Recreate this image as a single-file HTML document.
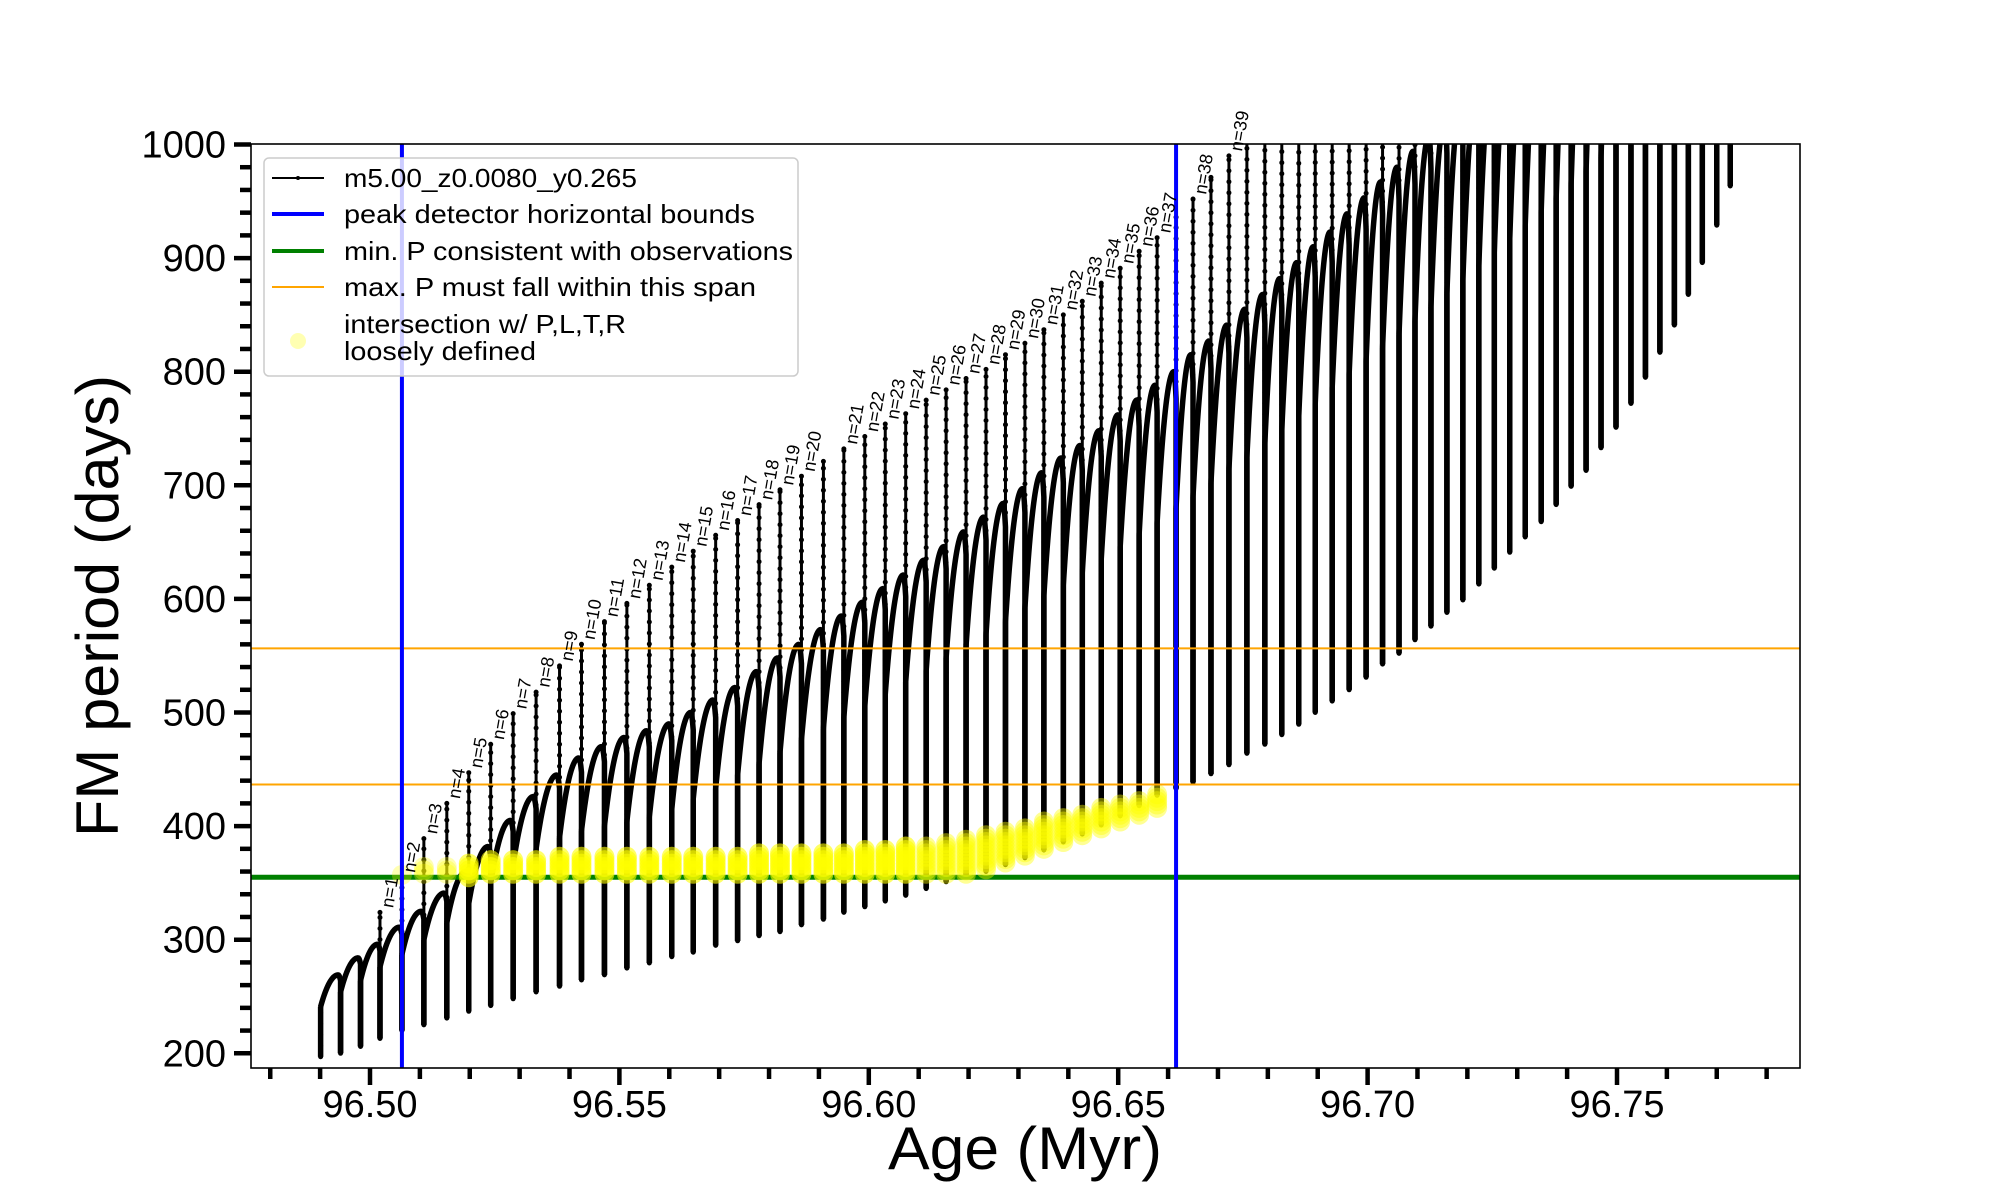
<!DOCTYPE html>
<html>
<head>
<meta charset="utf-8">
<style>
  html, body { margin: 0; padding: 0; background: #fff; }
  svg { display: block; font-family: "Liberation Sans", "DejaVu Sans", sans-serif; }
</style>
</head>
<body>
<svg id="chart" xmlns="http://www.w3.org/2000/svg" width="2000" height="1200" viewBox="0 0 2000 1200">
  <defs>
    <clipPath id="plotClip"><rect x="251" y="144" width="1549" height="924"/></clipPath>
  </defs>
  <rect x="0" y="0" width="2000" height="1200" fill="#fff"/>
  <g id="series" clip-path="url(#plotClip)"></g>
  <g id="axes"></g>
</svg>
<script>
// ---- data ----
const ages = [96.4901,96.4941,96.4981,96.5020,96.5064,96.5108,96.5154,96.5198,96.5242,96.5287,
  96.5333,96.5380,96.5424,96.5470,96.5515,96.5560,96.5605,96.5648,96.5693,96.5737,
  96.5780,96.5822,96.5865,96.5909,96.5950,96.5992,96.6033,96.6074,96.6115,96.6155,
  96.6195,96.6235,96.6274,96.6313,96.6351,96.6390,96.6428,96.6466,96.6504,96.6542,
  96.6578,96.6616,96.6650,96.6686,96.6722,96.6758,96.6794,96.6828,96.6862,96.6895,
  96.6929,96.6963,96.6997,96.7030,96.7063,96.7095,96.7127,96.7159,96.7191,96.7223,
  96.7254,96.7285,96.7316,96.7348,96.7378,96.7408,96.7438,96.7468,96.7498,96.7528,
  96.7557,96.7586,96.7615,96.7643,96.7671,96.7700,96.7727];
const minP = [197,200,206,213,220,225,231,237,242,248,
  254,259,264.5,269,275,279.5,285,289,295,299,
  303.5,307,313,318,324,329,334,339,345,351,
  355.5,360,366,372,379,386,393,401,409,418,
  427,433,438.6,446,454,464,472,480.5,489.6,500,
  510,520,531,542.6,552,564,576,588,599,613,
  627,641,654.5,668,683,699,713,733,751,772,
  795,817,841,868,896,929,963.5];
const spikeTop = [241,254,264,324,355,389,420,447,472,499,
  518,541,560,580,596,612,628,642,656,669,
  683,696,708,721,732,743,754,763,775,784,
  794,802,815,825,837,850,862,878,891,906,
  918,936,952,971,990,1050,1050,1050,1050,1050,
  1050,1050,1050,1050,1050,1050,1050,1050,1050,1050,
  1050,1050,1050,1050,1050,1050,1050,1050,1050,1050,
  1050,1050,1050,1050,1050,1050,1050];
const arcStart = [241,254,264,276,287,300,315,332,350,366,
  380,390,396,400,404,408,415,424,433,445,
  455,465,476,486,496,506,516,527,537,548,
  559,569,580,592,603,612,623,635,646,657,
  667,680,690,702,714,725,737,749,761,772,
  786,798,810,821,833,845,857,869,881,893,
  905,917,929,941,953,965,977,989,1001,1013,
  1025,1037,1049,1061,1073,1085,1100];
const arcPeak = [269,284,296,311,325,341,360,382,405,426,
  445,460,470,478,484,490,500,511,522,536,
  548,560,573,585,597,609,621,634,646,659,
  672,684,697,711,724,735,748,762,775,788,
  800,815,827,841,855,868,882,896,910,923,
  939,953,967,980,994,1008,1022,1036,1050,1064,
  1078,1092,1106,1120,1134,1148,1162,1176,1190,1204,
  1218,1232,1246,1260,1274,1288,1300];
const labelCycle = [3,4,5,6,7,8,9,10,11,12,13,14,15,16,17,18,19,20,21,22,
  24,25,26,27,28,29,30,31,32,33,34,35,36,37,38,39,40,42,44];
const labelText = ["n=1","n=2","n=3","n=4","n=5","n=6","n=7","n=8","n=9","n=10",
  "n=11","n=12","n=13","n=14","n=15","n=16","n=17","n=18","n=19","n=20",
  "n=21","n=22","n=23","n=24","n=25","n=26","n=27","n=28","n=29","n=30",
  "n=31","n=32","n=33","n=34","n=35","n=36","n=37","n=38","n=39"];
const yellowFirstCycle = 4;
const yellowLo = [357,358,358,355,358,358,358,358,358,358,358,358,358,358,358,358,358,358,358,358,358,358,358,358,358,358,358,
  362,368,374,380,386,392,398,404,410,416];
const yellowHi = [357,366,366,368,372,372,372,373,373,373,374,374,374,375,375,375,376,376,377,377,378,379,380,382,384,386,388,
  392,396,400,404,408,412,416,420,424,428];
const boundAges = [96.5064, 96.6616];
const minPeriod = [355];
const maxSpan = [436.6, 556.5];
const xTickLabels = ["96.50","96.55","96.60","96.65","96.70","96.75"];
const xTickValues = [96.50,96.55,96.60,96.65,96.70,96.75];
const yTickValues = [200,300,400,500,600,700,800,900,1000];
const yTickLabels = ["200","300","400","500","600","700","800","900","1000"];

// ---- axes functions ----
const X0 = 370, XS = 4988;
const Y0 = 1053.3, YS = 1.136;
function xs(a){ return X0 + (a - 96.5) * XS; }
function ys(p){ return Y0 - (p - 200) * YS; }
const PL = 251, PR = 1800, PT = 144, PB = 1068;

const NS = "http://www.w3.org/2000/svg";
function mk(tag, attrs, parent){
  const e = document.createElementNS(NS, tag);
  for (const k in attrs) e.setAttribute(k, attrs[k]);
  parent.appendChild(e);
  return e;
}
const series = document.getElementById('series');
const axes = document.getElementById('axes');

// ---- black model track ----
const gBlack = mk('g', {}, series);


for (let k = 0; k < ages.length; k++) {
  const x = xs(ages[k]);
  const yMin = ys(minP[k]), yTop = ys(spikeTop[k]), yStart = ys(arcStart[k]);
  const g = mk('g', {}, gBlack);
  
  
  const thin = mk('line', {x1:x, y1:yMin, x2:x, y2:yTop, stroke:'#000', 'stroke-width':3}, g);
  
  
  let d = '';
  for (let yy = yMin; yy >= yTop; yy -= 11) {
    d += 'M' + x + ' ' + yy.toFixed(1) + 'h0.01';
  }
  d += 'M' + x + ' ' + yTop.toFixed(1) + 'h0.01';
  const dots = mk('path', {d:d, stroke:'#000', 'stroke-width':5, 'stroke-linecap':'round'}, g);
  
  
  const thick = mk('line', {x1:x, y1:yMin, x2:x, y2:yStart, stroke:'#000', 'stroke-width':5.5}, g);
  
  
  if (k < ages.length - 1) {
    const t0 = ages[k], t1 = ages[k+1];
    let pd = '';
    for (let i = 0; i <= 30; i++) {
      const u = i / 30;
      let gg;
      if (u <= 0.88) { const v = 1 - u/0.88; gg = 1 - v*v; }
      else { const w = (u - 0.88)/0.12; gg = 1 - 0.18*w*w; }
      const p = arcStart[k] + (arcPeak[k] - arcStart[k]) * gg;
      pd += (i ? 'L' : 'M') + xs(t0 + u*(t1-t0)).toFixed(2) + ' ' + ys(p).toFixed(2);
    }
    pd += 'L' + xs(t1).toFixed(2) + ' ' + ys(minP[k+1]).toFixed(2);
    const arc = mk('path', {d:pd, fill:'none', stroke:'#000', 'stroke-width':5.5, 'stroke-linejoin':'round'}, g);
    
    
  }
}

// ---- n labels ----
for (let i = 0; i < labelCycle.length; i++) {
  const k = labelCycle[i];
  const x = xs(ages[k]) + 13, y = ys(spikeTop[k]) - 4;
  const t = mk('text', {x:x, y:y, 'font-size':18, fill:'#000', transform:'rotate(-80 '+x+' '+y+')'}, axes);
  t.textContent = labelText[i];
  
  
}

// ---- green line ----
const green = mk('line', {x1:PL, x2:PR, y1:ys(minPeriod[0]), y2:ys(minPeriod[0]), stroke:'#008000', 'stroke-width':5}, series);



// ---- yellow intersections ----
const gY = mk('g', {}, series);


for (let j = 0; j < yellowLo.length; j++) {
  const k = yellowFirstCycle + j;
  const x = xs(ages[k]);
  const op = j < 3 ? 0.3 : (j < 24 ? 0.6 : 0.42);
  for (let p = yellowLo[j]; p <= yellowHi[j] + 0.01; p += 3) {
    const c = mk('circle', {cx:x, cy:ys(p), r:10, fill:'#ffff00', 'fill-opacity':op}, gY);
    
    
  }
}

// ---- orange lines ----
for (let i = 0; i < maxSpan.length; i++) {
  const o = mk('line', {x1:PL, x2:PR, y1:ys(maxSpan[i]), y2:ys(maxSpan[i]), stroke:'#ffa500', 'stroke-width':2}, series);
  
  
}
// ---- blue lines ----
for (let i = 0; i < boundAges.length; i++) {
  const b = mk('line', {x1:xs(boundAges[i]), x2:xs(boundAges[i]), y1:PT, y2:PB, stroke:'#0000ff', 'stroke-width':4}, series);
  
  
}

// ---- frame ----
const frame = mk('rect', {x:PL, y:PT, width:PR-PL, height:PB-PT, fill:'none', stroke:'#000', 'stroke-width':1.6}, axes);



// ---- y ticks ----
for (let p = 200; p <= 1000; p += 20) {
  const major = (p % 100 === 0);
  const y = ys(p);
  const t = mk('line', {x1:PL - (major ? 17 : 11), x2:PL, y1:y, y2:y, stroke:'#000', 'stroke-width':4.5}, axes);
  
  
}
for (let i = 0; i < yTickValues.length; i++) {
  const t = mk('text', {x:226, y:ys(yTickValues[i]) + 13, 'font-size':38, 'text-anchor':'end', fill:'#000'}, axes);
  t.textContent = yTickLabels[i];
  
  
}
// ---- x ticks ----
for (let i = 0; i <= 30; i++) {
  const a = 96.48 + i * 0.01;
  const major = (Math.round(a*100) % 5 === 0);
  const x = xs(a);
  const t = mk('line', {x1:x, x2:x, y1:PB, y2:PB + (major ? 17 : 11), stroke:'#000', 'stroke-width':4.5}, axes);
  
  
}
for (let i = 0; i < xTickValues.length; i++) {
  const t = mk('text', {x:xs(xTickValues[i]), y:1117, 'font-size':38, 'text-anchor':'middle', fill:'#000'}, axes);
  t.textContent = xTickLabels[i];
  
  
}
</script>
<svg style="position:absolute;left:0;top:0" width="2000" height="1200">
  <text x="1025" y="1169" font-size="60" text-anchor="middle" fill="#000" font-family="Liberation Sans, sans-serif" textLength="274" lengthAdjust="spacingAndGlyphs">Age (Myr)</text>
  <text x="0" y="0" font-size="60" text-anchor="middle" fill="#000" font-family="Liberation Sans, sans-serif" transform="translate(118 606) rotate(-90)" textLength="462" lengthAdjust="spacingAndGlyphs">FM period (days)</text>
  <g font-family="Liberation Sans, sans-serif" font-size="26">
    <rect x="264" y="158" width="534" height="218" rx="5" fill="#fff" fill-opacity="0.8" stroke="#cccccc" stroke-width="1.5"/>
    <g>
      <line x1="272" y1="178" x2="324" y2="178" stroke="#000" stroke-width="2"/>
      <circle cx="298" cy="178" r="2" fill="#000"/>
      <text x="344" y="187" fill="#000" textLength="293" lengthAdjust="spacingAndGlyphs">m5.00_z0.0080_y0.265</text>
    </g>
    <g>
      <line x1="272" y1="214" x2="324" y2="214" stroke="#0000ff" stroke-width="4"/>
      <text x="344" y="223" fill="#000" textLength="411" lengthAdjust="spacingAndGlyphs">peak detector horizontal bounds</text>
    </g>
    <g>
      <line x1="272" y1="251" x2="324" y2="251" stroke="#008000" stroke-width="4"/>
      <text x="344" y="260" fill="#000" textLength="449" lengthAdjust="spacingAndGlyphs">min. P consistent with observations</text>
    </g>
    <g>
      <line x1="272" y1="287" x2="324" y2="287" stroke="#ffa500" stroke-width="2"/>
      <text x="344" y="296" fill="#000" textLength="412" lengthAdjust="spacingAndGlyphs">max. P must fall within this span</text>
    </g>
    <g>
      <circle cx="298" cy="341" r="8" fill="#ffff00" fill-opacity="0.3"/>
      <text x="344" y="333" fill="#000" textLength="282" lengthAdjust="spacingAndGlyphs">intersection w/ P,L,T,R</text>
      <text x="344" y="360" fill="#000" textLength="192" lengthAdjust="spacingAndGlyphs">loosely defined</text>
    </g>
  </g>
</svg>
</body>
</html>
